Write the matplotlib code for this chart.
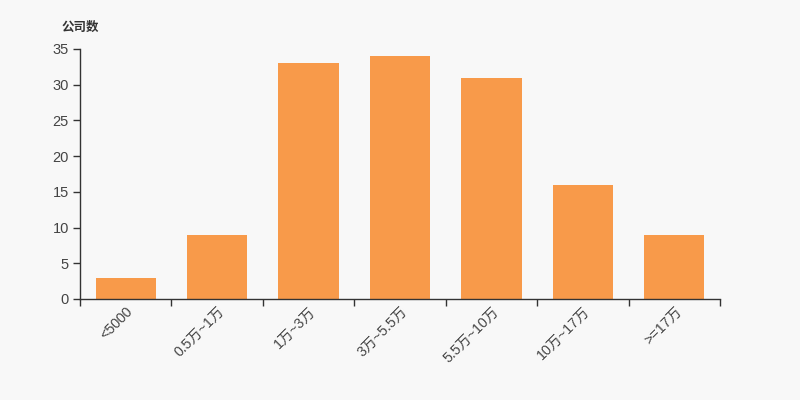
import matplotlib.pyplot as plt
import numpy as np

plt.rcParams["font.family"] = ["Liberation Sans", "Noto Sans CJK SC", "DejaVu Sans"]

categories = ["<5000", "0.5万~1万", "1万~3万", "3万~5.5万", "5.5万~10万", "10万~17万", ">=17万"]
counts = [3, 9, 33, 34, 31, 16, 9]
y_ticks = [0, 5, 10, 15, 20, 25, 30, 35]

bg = "#f8f8f8"
bar_color = "#f89a4a"
text_color = "#333333"

fig = plt.figure(figsize=(8, 4), dpi=100, facecolor=bg)
ax = fig.add_axes([0.1, 0.2525, 0.8, 0.625])
ax.set_facecolor(bg)

x = np.arange(len(categories))
ax.bar(x, counts, width=0.66, color=bar_color, zorder=2)

ax.set_xlim(-0.5, len(categories) - 0.5)
ax.set_ylim(0, 35)
ax.set_yticks(y_ticks)

# ticks sit on the boundaries between categories, labels centred under bars
ax.set_xticks(np.arange(len(categories) + 1) - 0.5)
ax.set_xticklabels([])
ax.set_xticks(x, minor=True)
ax.set_xticklabels(categories, minor=True, rotation=45, ha="right", va="top",
                   rotation_mode="anchor", fontsize=10.2, color="#444444")
ax.tick_params(axis="x", which="minor", length=0, pad=4)
ax.tick_params(axis="x", which="major", length=5, width=1, color=text_color)
ax.tick_params(axis="y", length=5, width=1, color=text_color, labelsize=10.5,
               labelcolor="#444444", pad=3)

for side in ("top", "right"):
    ax.spines[side].set_visible(False)
for side in ("left", "bottom"):
    ax.spines[side].set_color(text_color)
    ax.spines[side].set_linewidth(1)

fig.text(0.0775, 0.93, "公司数", fontsize=9, fontweight="bold", color=text_color,
         ha="left", va="center")

fig.savefig("out.png", dpi=100, facecolor=bg)
